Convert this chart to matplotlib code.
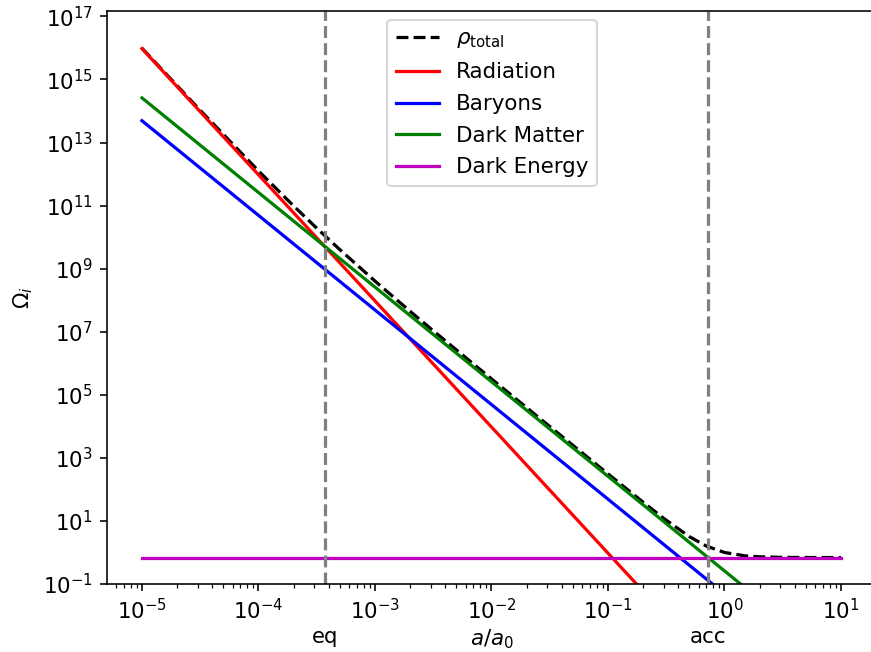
import matplotlib
matplotlib.use("Agg")
import matplotlib.pyplot as plt
import matplotlib.ticker as mticker
import matplotlib.transforms as mtransforms

plt.rcParams['font.size'] = 10.6

# Scale factor a/a0
a_ends = [1e-5, 1e1]
radiation = [9.5e15, 9.5e-9]
baryons = [4.9e13, 4.9e-5]
dark_matter = [2.6e14, 2.6e-4]
dark_energy = [0.69, 0.69]

a_total = [1e-5, 3e-5, 1e-4, 2e-4, 3e-4, 5e-4, 1e-3, 2e-3, 3e-3, 1e-2, 3e-2,
           0.1, 0.2, 0.3, 0.5, 0.7, 1.0, 1.5, 2.0, 3.0, 5.0, 10.0]
rho_total = [9.81e15, 1.287e14, 1.259e12, 9.80e10, 2.317e10, 3.99e9, 4.04e8,
             4.45e7, 1.26e7, 3.19e5, 11561, 310.6, 39.4, 12.14, 3.17, 1.59,
             1.0, 0.78, 0.729, 0.701, 0.692, 0.69]

a_eq = 3.75e-4
a_acc = 0.72
ytick_vals = [1e-1, 1e1, 1e3, 1e5, 1e7, 1e9, 1e11, 1e13, 1e15, 1e17]

lw = 1.6
fig = plt.figure(figsize=(871/145, 652/145), dpi=145)
# axes extend to the right edge of the picture; right spine lies just beyond it
ax = fig.add_axes([107/871, (652-584)/652, (871-107)/871, (584-11)/652])

ax.plot(a_total, rho_total, 'k--', lw=lw, label=r'$\rho_{\rm total}$')
ax.plot(a_ends, radiation, color='r', lw=lw, label='Radiation')
ax.plot(a_ends, baryons, color='b', lw=lw, label='Baryons')
ax.plot(a_ends, dark_matter, color='g', lw=lw, label='Dark Matter')
ax.plot(a_ends, dark_energy, color='m', lw=lw, label='Dark Energy')

ax.axvline(a_eq, color='gray', ls='--', lw=lw)
ax.axvline(a_acc, color='gray', ls='--', lw=lw)

ax.set_xscale('log')
ax.set_yscale('log')
ax.set_ylim(bottom=0.1, top=10**17.17)
ax.set_xlim(10**-5.3, 10**1.2575)
ax.spines['right'].set_visible(False)
ax.yaxis.set_major_locator(mticker.FixedLocator(ytick_vals))
ax.yaxis.set_minor_locator(mticker.NullLocator())
ax.yaxis.set_major_formatter(mticker.LogFormatterSciNotation())

ax.set_ylabel(r'$\Omega_i$', labelpad=4)
trans = mtransforms.blended_transform_factory(ax.transData, ax.transAxes)
ax.text(a_eq, -0.075, 'eq', transform=trans, ha='center', va='top')
ax.text(a_acc, -0.075, 'acc', transform=trans, ha='center', va='top')
ax.text(10**-2, -0.075, r'$a/a_0$', transform=trans, ha='center', va='top')

ax.legend(loc='upper center', bbox_to_anchor=(0.504, 1.003), handlelength=2.0,
          labelspacing=0.55)

fig.savefig('out.png', dpi=145)
